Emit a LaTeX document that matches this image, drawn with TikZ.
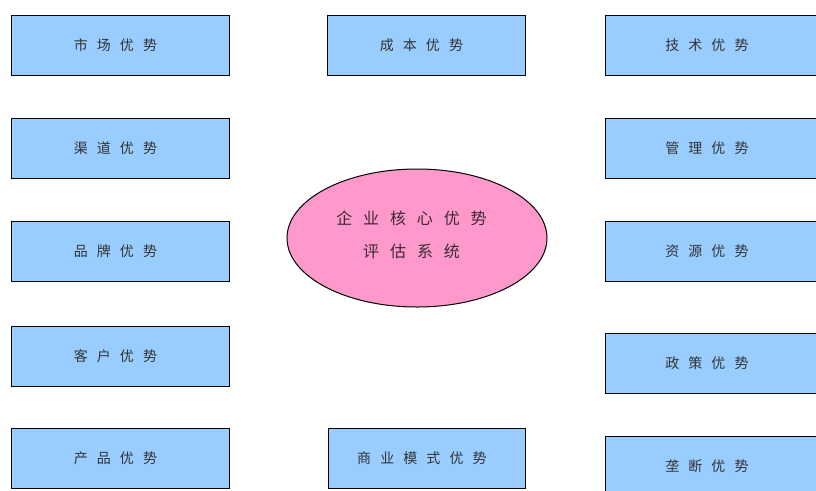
\documentclass[tikz,border=0pt]{standalone}
\usepackage{fontspec}
\setmainfont{Noto Sans CJK SC}
\usetikzlibrary{shapes.geometric}
\definecolor{boxfill}{HTML}{99CCFF}
\definecolor{ellfill}{HTML}{FF99CC}
\definecolor{boxtext}{HTML}{333333}
\definecolor{elltext}{HTML}{3A2A33}
\newcommand\gp{\hspace*{0.65em}}
\newcommand\eg{\hspace*{0.68em}}
\tikzset{
  adv/.style={draw=black, line width=1pt, fill=boxfill, minimum height=60pt,
    inner sep=0pt, font=\fontsize{14}{16}\selectfont, text=boxtext},
  core/.style={ellipse, draw=black, line width=1pt, fill=ellfill, minimum width=260pt,
    minimum height=138pt, inner sep=0pt},
  coretext/.style={align=center, inner sep=0pt,
    font=\fontsize{16}{33}\selectfont, text=elltext}
}
\begin{document}
\begin{tikzpicture}[x=1pt,y=-1pt]
\useasboundingbox (0,0) rectangle (816,490);
\clip (0,0) rectangle (816,490);
\node[adv, minimum width=218pt] (l1) at (120,45) {市\gp 场\gp 优\gp 势\gp};
\node[adv, minimum width=218pt] (l2) at (120,148) {渠\gp 道\gp 优\gp 势\gp};
\node[adv, minimum width=218pt] (l3) at (120,251) {品\gp 牌\gp 优\gp 势\gp};
\node[adv, minimum width=218pt] (l4) at (120,356) {客\gp 户\gp 优\gp 势\gp};
\node[adv, minimum width=218pt] (l5) at (120,458) {产\gp 品\gp 优\gp 势\gp};
\node[adv, minimum width=198pt] (m1) at (426,45) {成\gp 本\gp 优\gp 势\gp};
\node[adv, minimum width=197pt] (m2) at (426.5,458) {商\gp 业\gp 模\gp 式\gp 优\gp 势\gp};
\node[adv, minimum width=213pt] (r1) at (711.5,45) {技\gp 术\gp 优\gp 势\gp};
\node[adv, minimum width=213pt] (r2) at (711.5,148) {管\gp 理\gp 优\gp 势\gp};
\node[adv, minimum width=213pt] (r3) at (711.5,251) {资\gp 源\gp 优\gp 势\gp};
\node[adv, minimum width=213pt] (r4) at (711.5,363) {政\gp 策\gp 优\gp 势\gp};
\node[adv, minimum width=213pt] (r5) at (711.5,466) {垄\gp 断\gp 优\gp 势\gp};
\node[core] (c) at (417,238) {};
\node[coretext] (ct) at (417,234.5) {企\eg 业\eg 核\eg 心\eg 优\eg 势\eg\\评\eg 估\eg 系\eg 统\eg};
\end{tikzpicture}
\end{document}
